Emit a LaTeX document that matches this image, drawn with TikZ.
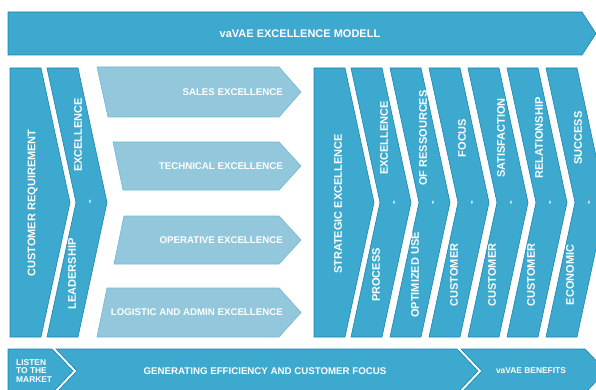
\documentclass[tikz,border=0pt]{standalone}
\usepackage{fontspec}
\setmainfont{Liberation Sans}
\usetikzlibrary{positioning}

\definecolor{vablue}{HTML}{3DA9CE}
\definecolor{vaedge}{HTML}{1B86B0}
\definecolor{valight}{HTML}{93C8DC}
\definecolor{valightedge}{HTML}{72B7D3}

\begin{document}
\begin{tikzpicture}[x=1pt, y=-1pt,
    band/.style={fill=vablue, draw=vaedge, line width=0.6pt},
    pale/.style={fill=valight, draw=valightedge, line width=0.6pt},
    vlabel/.style={text=white, font=\bfseries\fontsize{11}{12}\selectfont, rotate=90, inner sep=0pt},
    hlabel/.style={text=white, font=\bfseries\fontsize{9.7}{11}\selectfont, inner sep=0pt},
    smalllabel/.style={text=white, font=\bfseries\fontsize{8.4}{8.5}\selectfont, inner sep=0pt}]
    \useasboundingbox (0,0) rectangle (596,390);
    \clip (0,0) rectangle (596,390);

    % top banner
    \draw[band] (8,12) -- (582,12) -- (596,33.5) -- (582,55) -- (8,55) -- cycle;
    \node[hlabel, font=\bfseries\fontsize{11}{12}\selectfont] (title) at (300,33.5) {vaVAE EXCELLENCE MODELL};

    % left chevrons
    \draw[band] (10,68) -- (41,68) -- (70,202.5) -- (41,337) -- (10,337) -- cycle;
    \draw[band] (47,68) -- (78,68) -- (107,202.5) -- (78,337) -- (47,337) -- (76,202.5) -- cycle;
    \node[vlabel] (custreq) at (32.5,203) {CUSTOMER REQUIREMENT};
    \node[vlabel] (leadtop) at (78,135) {EXCELLENCE};
    \node[vlabel] (leaddash) at (91,202) {-};
    \node[vlabel] (leadbot) at (72,274) {LEADERSHIP};

    % pale arrows
    \draw[pale] (97,67) -- (279,67) -- (301,92) -- (279,117) -- (108,117) -- cycle;
    \draw[pale] (113,142) -- (279,142) -- (301,166) -- (279,190) -- (123,190) -- cycle;
    \draw[pale] (124,216) -- (279,216) -- (301,240) -- (279,264) -- (114,264) -- cycle;
    \draw[pale] (107,288) -- (279,288) -- (301,312.5) -- (279,337) -- (97,337) -- cycle;
    \node[hlabel, anchor=east] (sales) at (283,92) {SALES EXCELLENCE};
    \node[hlabel, anchor=east] (technical) at (283,166.5) {TECHNICAL EXCELLENCE};
    \node[hlabel, anchor=east] (operative) at (283,240.5) {OPERATIVE EXCELLENCE};
    \node[hlabel, anchor=east] (logistic) at (283,312.5) {LOGISTIC AND ADMIN EXCELLENCE};

    % right chevrons
    \draw[band] (314,68) -- (345,68) -- (374,202.5) -- (345,337) -- (314,337) -- cycle;
    \draw[band] (351,68) -- (382,68) -- (411,202.5) -- (382,337) -- (351,337) -- (380,202.5) -- cycle;
    \draw[band] (390,68) -- (421,68) -- (450,202.5) -- (421,337) -- (390,337) -- (419,202.5) -- cycle;
    \draw[band] (429,68) -- (460,68) -- (489,202.5) -- (460,337) -- (429,337) -- (458,202.5) -- cycle;
    \draw[band] (468,68) -- (499,68) -- (528,202.5) -- (499,337) -- (468,337) -- (497,202.5) -- cycle;
    \draw[band] (507,68) -- (538,68) -- (567,202.5) -- (538,337) -- (507,337) -- (536,202.5) -- cycle;
    \draw[band] (546,68) -- (577,68) -- (606,202.5) -- (577,337) -- (546,337) -- (575,202.5) -- cycle;

    \node[vlabel] (strategic) at (338,204) {STRATEGIC EXCELLENCE};

    \node[vlabel] (proctop) at (384,138) {EXCELLENCE};
    \node[vlabel] (procdash) at (395,203) {-};
    \node[vlabel] (procbot) at (376,275) {PROCESS};

    \node[vlabel] (restop) at (423,138) {OF RESSOURCES};
    \node[vlabel] (resdash) at (434,203) {-};
    \node[vlabel] (resbot) at (415,275) {OPTIMIZED USE};

    \node[vlabel] (focustop) at (462,138) {FOCUS};
    \node[vlabel] (focusdash) at (473,203) {-};
    \node[vlabel] (focusbot) at (454,275) {CUSTOMER};

    \node[vlabel] (sattop) at (501,138) {SATISFACTION};
    \node[vlabel] (satdash) at (512,203) {-};
    \node[vlabel] (satbot) at (492,275) {CUSTOMER};

    \node[vlabel] (reltop) at (539,138) {RELATIONSHIP};
    \node[vlabel] (reldash) at (551,203) {-};
    \node[vlabel] (relbot) at (531,275) {CUSTOMER};

    \node[vlabel] (ecotop) at (578,138) {SUCCESS};
    \node[vlabel] (ecodash) at (590,203) {-};
    \node[vlabel] (ecobot) at (570,275) {ECONOMIC};

    % bottom banner
    \draw[band] (8,349) -- (52,349) -- (73,371) -- (52,393) -- (8,393) -- cycle;
    \draw[band] (56,349) -- (457,349) -- (478,371) -- (457,393) -- (56,393) -- (77,371) -- cycle;
    \draw[band] (461,349) -- (585,349) -- (606,371) -- (585,393) -- (461,393) -- (482,371) -- cycle;
    \node[smalllabel, align=left, anchor=west] (listen) at (16,371) {LISTEN\\TO THE\\MARKET};
    \node[hlabel] (generating) at (265,371) {GENERATING EFFICIENCY AND CUSTOMER FOCUS};
    \node[smalllabel] (benefits) at (531,371) {vaVAE BENEFITS};
\end{tikzpicture}
\end{document}
